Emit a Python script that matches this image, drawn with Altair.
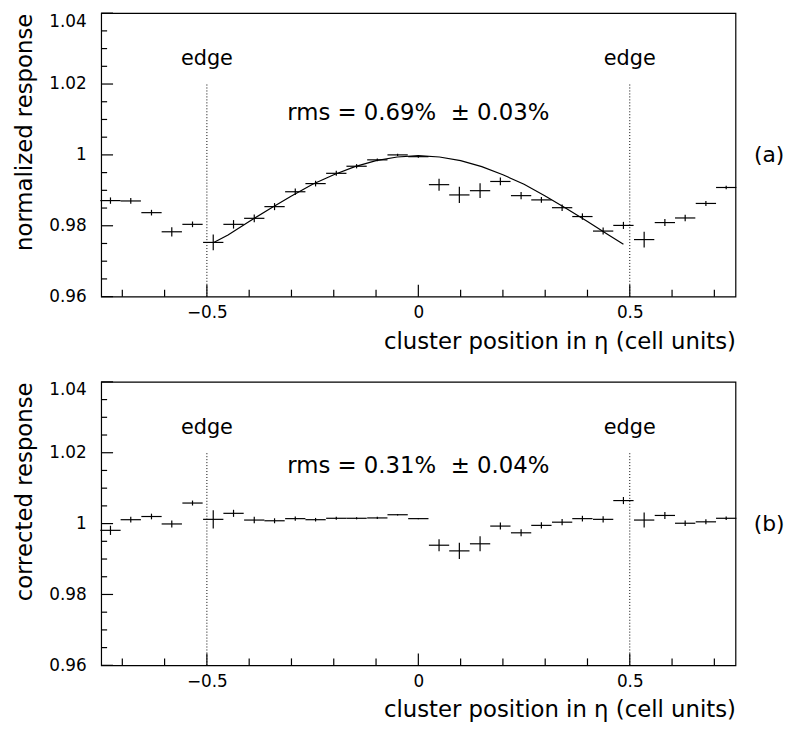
import altair as alt
import pandas as pd

# ---------------- data ----------------
x_pos = [-0.728, -0.680, -0.631, -0.583, -0.534, -0.485, -0.437, -0.388, -0.340, -0.291,
         -0.243, -0.194, -0.146, -0.097, -0.049, 0.000, 0.049, 0.097, 0.146, 0.194,
         0.243, 0.291, 0.340, 0.388, 0.437, 0.485, 0.534, 0.583, 0.631, 0.680, 0.728]
half_width = 0.024

resp_a = [0.9871, 0.9870, 0.9837, 0.9783, 0.9804, 0.9753, 0.9804, 0.9821, 0.9854, 0.9896,
          0.9919, 0.9948, 0.9968, 0.9986, 1.0000, 0.9995, 0.9916, 0.9887, 0.9899, 0.9925,
          0.9885, 0.9873, 0.9851, 0.9826, 0.9785, 0.9801, 0.9761, 0.9809, 0.9822, 0.9863, 0.9908]
err_a = [0.0009, 0.0008, 0.0008, 0.0013, 0.0008, 0.0022, 0.0012, 0.0011, 0.0010, 0.0009,
         0.0008, 0.0007, 0.0006, 0.0004, 0.0003, 0.0003, 0.0017, 0.0023, 0.0021, 0.0011,
         0.0010, 0.0008, 0.0009, 0.0009, 0.0010, 0.0010, 0.0022, 0.0010, 0.0009, 0.0007, 0.0005]

resp_b = [0.9981, 1.0011, 1.0020, 0.9999, 1.0058, 1.0012, 1.0029, 1.0010, 1.0008, 1.0014,
          1.0011, 1.0015, 1.0015, 1.0016, 1.0025, 1.0014, 0.9939, 0.9923, 0.9943, 0.9993,
          0.9974, 0.9995, 1.0004, 1.0014, 1.0012, 1.0065, 1.0010, 1.0023, 1.0001, 1.0005, 1.0015]
err_b = [0.0013, 0.0008, 0.0008, 0.0010, 0.0007, 0.0026, 0.0010, 0.0009, 0.0007, 0.0006,
         0.0005, 0.0004, 0.0003, 0.0003, 0.0002, 0.0002, 0.0017, 0.0023, 0.0021, 0.0010,
         0.0010, 0.0009, 0.0009, 0.0008, 0.0009, 0.0010, 0.0021, 0.0010, 0.0008, 0.0007, 0.0005]

curve_x = [-0.485, -0.45, -0.40, -0.35, -0.30, -0.25, -0.20, -0.15, -0.10, -0.05, 0.0,
           0.05, 0.10, 0.15, 0.20, 0.25, 0.30, 0.35, 0.40, 0.45, 0.485]
curve_y = [0.9752, 0.9774, 0.9812, 0.9849, 0.9884, 0.9917, 0.9944, 0.9967, 0.9984, 0.9994, 0.9998,
           0.9994, 0.9984, 0.9967, 0.9944, 0.9917, 0.9884, 0.9849, 0.9812, 0.9774, 0.9748]

edge_x = [-0.5, 0.5]
edge_line_top = 1.020
edge_label_y = 1.027

x_major = [-0.5, 0.0, 0.5]
x_minor = [-0.7, -0.6, -0.4, -0.3, -0.2, -0.1, 0.1, 0.2, 0.3, 0.4, 0.6, 0.7]
y_major = [0.96, 0.98, 1.00, 1.02, 1.04]
y_minor = [0.965, 0.97, 0.975, 0.985, 0.99, 0.995, 1.005, 1.01, 1.015, 1.025, 1.03, 1.035]

x_title = "cluster position in η (cell units)"
panels = [
    dict(resp=resp_a, err=err_a, ytitle="normalized response",
         rms="rms = 0.69%\u00a0 ± 0.03%", rms_y=1.0118, tag="(a)", curve=True),
    dict(resp=resp_b, err=err_b, ytitle="corrected response",
         rms="rms = 0.31%\u00a0 ± 0.04%", rms_y=1.0163, tag="(b)", curve=False),
]

# ---------------- chart ----------------
W, H = 640, 286
FONT = "DejaVu Sans"
xscale = alt.Scale(domain=[-0.75, 0.75], nice=False, zero=False)
yscale = alt.Scale(domain=[0.96, 1.04], nice=False, zero=False)

x_axis = alt.Axis(values=x_major, title=x_title, titleAnchor="end",
                  labelExpr="datum.value == 0 ? '0' : (datum.value < 0 ? '\u2212' : '') + format(abs(datum.value), '.1f')",
                  labelPadding=8, titlePadding=10)


def make_y_axis(title):
    return alt.Axis(values=y_major, title=title, titleAnchor="end",
                    labelExpr="abs(datum.value - 1) < 1e-9 ? '1' : format(datum.value, '.2f')",
                    labelPadding=15, titlePadding=12,
                    labelBaseline={"condition": {"test": "datum.value > 1.039", "value": "top"},
                                   "value": "middle"})


def panel(p):
    y_axis = make_y_axis(p["ytitle"])
    X = lambda f: alt.X(f, scale=xscale, axis=x_axis)
    Y = lambda f: alt.Y(f, scale=yscale, axis=y_axis)

    df = pd.DataFrame({"x": x_pos, "y": p["resp"], "e": p["err"]})
    df["xl"] = df["x"] - half_width
    df["xh"] = df["x"] + half_width
    df["yl"] = df["y"] - df["e"]
    df["yh"] = df["y"] + df["e"]

    base = alt.Chart(df)
    hbars = base.mark_rule(color="black", strokeWidth=1.2).encode(x=X("xl:Q"), x2="xh:Q", y=Y("y:Q"))
    vbars = base.mark_rule(color="black", strokeWidth=1.2).encode(x=X("x:Q"), y=Y("yl:Q"), y2="yh:Q")

    edf = pd.DataFrame({"x": edge_x, "y0": [0.96, 0.96], "y1": [edge_line_top] * 2,
                        "ly": [edge_label_y] * 2, "t": ["edge", "edge"]})
    edges = alt.Chart(edf).mark_rule(color="black", strokeWidth=1, strokeDash=[1, 2]).encode(
        x=X("x:Q"), y=Y("y0:Q"), y2="y1:Q")
    edge_txt = alt.Chart(edf).mark_text(font=FONT, fontSize=21, color="black").encode(
        x=X("x:Q"), y=Y("ly:Q"), text="t:N")

    rdf = pd.DataFrame({"x": [0.0], "y": [p["rms_y"]], "t": [p["rms"]], "ty": [1.0], "tag": [p["tag"]]})
    rms_txt = alt.Chart(rdf).mark_text(font=FONT, fontSize=23, color="black").encode(
        x=X("x:Q"), y=Y("y:Q"), text="t:N")
    tag_txt = alt.Chart(rdf).mark_text(font=FONT, fontSize=22, color="black").encode(
        x=alt.value(W + 34), y=Y("ty:Q"), text="tag:N")

    xmaj = alt.Chart(pd.DataFrame({"t": x_major})).mark_rule(color="black", strokeWidth=1.2).encode(
        x=X("t:Q"), y=alt.value(H), y2=alt.value(H - 12))
    xmin = alt.Chart(pd.DataFrame({"t": x_minor})).mark_rule(color="black", strokeWidth=1.2).encode(
        x=X("t:Q"), y=alt.value(H), y2=alt.value(H - 7))
    ymaj = alt.Chart(pd.DataFrame({"t": y_major})).mark_rule(color="black", strokeWidth=1.2).encode(
        y=Y("t:Q"), x=alt.value(0), x2=alt.value(12))
    ymin = alt.Chart(pd.DataFrame({"t": y_minor})).mark_rule(color="black", strokeWidth=1.2).encode(
        y=Y("t:Q"), x=alt.value(0), x2=alt.value(6))

    layers = [xmaj, xmin, ymaj, ymin, edges, hbars, vbars]
    if p["curve"]:
        cdf = pd.DataFrame({"x": curve_x, "y": curve_y})
        layers.append(alt.Chart(cdf).mark_line(color="black", strokeWidth=1.2).encode(
            x=X("x:Q"), y=Y("y:Q")))
    layers += [edge_txt, rms_txt, tag_txt]
    return alt.layer(*layers).properties(width=W, height=H)


chart = alt.vconcat(*[panel(p) for p in panels], spacing=26).configure(
    padding={"left": 5, "top": 0, "right": 5, "bottom": 0}, font=FONT
).configure_view(stroke="black", strokeWidth=1.2).configure_axis(
    domain=False, grid=False, ticks=False, tickSize=0,
    labelFont=FONT, labelFontSize=17, labelColor="black",
    titleFont=FONT, titleFontSize=23, titleFontWeight="normal", titleColor="black",
)

chart.save("out.html", embed_options={"renderer": "svg", "actions": False})
